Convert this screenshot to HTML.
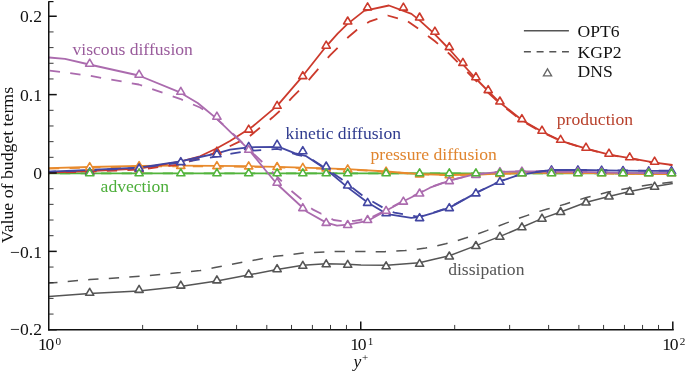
<!DOCTYPE html>
<html><head><meta charset="utf-8"><title>Budget terms</title>
<style>
html,body{margin:0;padding:0;background:#fff;}
body{width:685px;height:371px;overflow:hidden;position:relative;}
svg{position:absolute;left:0;top:0;display:block;will-change:transform;}
text{font-family:"Liberation Serif","Times New Roman",serif;font-size:17.6px;fill:#111;}
</style></head><body>
<svg width="685" height="371" viewBox="0 0 685 371">
<rect width="685" height="371" fill="#fff"/>
<g stroke="#555555" fill="none" stroke-width="1.50" stroke-linejoin="round">
<path d="M49.0 296.5 L89.4 293.4 L139.0 290.9 L180.4 286.4 L190.0 285.1 L216.8 280.9 L248.1 275.1 L277.0 269.6 L302.8 265.3 L326.1 263.8 L347.4 264.3 L361.0 265.0 L386.8 265.2 L419.4 262.7 L435.2 258.9 L449.5 255.7 L476.0 245.6 L499.6 236.6 L522.4 227.0 L542.4 218.4 L561.3 211.7 L586.4 202.3 L608.8 196.4 L629.6 191.5 L654.5 186.6 L672.8 183.4"/>
<path d="M49.0 283.1 L57.5 282.4 M67.7 281.5 L78.0 280.6 M88.2 279.8 L90.0 279.6 L98.5 279.0 M108.8 278.4 L119.1 277.7 M129.3 277.0 L139.6 276.3 M149.9 275.4 L160.2 274.4 M170.4 273.5 L180.0 272.6 L180.7 272.5 M191.0 271.5 L200.0 270.6 L201.2 270.4 M211.5 268.3 L215.0 267.6 L221.8 266.3 M232.0 264.3 L242.3 262.3 M252.5 260.4 L262.8 258.6 M273.0 256.7 L275.2 256.3 L283.3 255.4 M293.5 254.2 L302.8 253.1 L303.8 253.0 M314.1 252.4 L324.4 251.9 M334.6 251.6 L344.9 251.4 M355.2 251.4 L361.0 251.5 L365.5 251.6 M375.7 251.7 L384.8 251.7 L386.0 251.6 M396.3 251.1 L405.2 250.6 L406.6 250.4 M416.8 249.3 L425.7 248.0 L427.1 247.7 M437.3 245.8 L445.7 243.8 L447.6 243.3 M457.8 240.5 L466.3 237.8 L468.0 237.2 M478.2 233.8 L486.7 230.6 L488.4 229.9 M498.6 226.0 L506.7 222.9 L508.8 222.1 M519.0 218.3 L527.4 215.4 L529.2 214.8 M539.4 211.4 L547.4 209.0 L549.7 208.4 M559.9 205.6 L564.8 204.2 L570.1 202.5 M580.3 199.4 L586.4 197.5 L590.6 196.5 M600.8 193.9 L608.0 192.1 L611.1 191.5 M621.3 189.6 L629.6 188.0 L631.6 187.7 M641.8 186.0 L651.2 184.5 L652.1 184.4 M662.3 183.3 L672.6 182.1"/>
</g>
<g stroke="#52b43c" fill="none" stroke-width="1.80" stroke-linejoin="round">
<path d="M49.0 173.4 L672.8 173.4"/>
<path d="M49.0 173.4 L49.8 173.4 M60.0 173.4 L70.3 173.4 M80.6 173.4 L90.9 173.4 M101.1 173.4 L111.4 173.4 M121.7 173.4 L131.9 173.4 M142.2 173.4 L152.5 173.4 M162.8 173.4 L173.0 173.4 M183.3 173.4 L193.6 173.4 M203.8 173.4 L214.1 173.4 M224.4 173.4 L234.7 173.4 M244.9 173.4 L255.2 173.4 M265.5 173.4 L275.8 173.4 M286.0 173.4 L296.3 173.4 M306.6 173.4 L316.9 173.4 M327.1 173.4 L337.4 173.4 M347.7 173.4 L358.0 173.4 M368.2 173.4 L378.5 173.4 M388.8 173.4 L399.1 173.4 M409.3 173.4 L419.6 173.4 M429.9 173.4 L440.2 173.4 M450.4 173.4 L460.8 173.4 M471.0 173.4 L481.3 173.4 M491.6 173.4 L501.9 173.4 M512.1 173.4 L522.4 173.4 M532.7 173.4 L543.0 173.4 M553.2 173.4 L563.5 173.4 M573.8 173.4 L584.1 173.4 M594.3 173.4 L604.6 173.4 M614.9 173.4 L625.2 173.4 M635.4 173.4 L645.7 173.4 M656.0 173.4 L666.3 173.4"/>
</g>
<g stroke="#e88a2d" fill="none" stroke-width="1.80" stroke-linejoin="round">
<path d="M49.0 168.2 L90.0 167.0 L139.0 165.9 L180.0 165.7 L216.6 165.9 L248.0 166.2 L277.0 166.8 L302.5 167.6 L326.0 168.3 L347.6 169.2 L386.4 171.5 L419.7 174.2 L449.5 175.0 L476.0 174.5 L500.0 173.7 L522.0 173.1 L551.0 172.7 L580.0 172.8 L620.0 173.6 L645.0 174.0 L672.8 174.0"/>
<path d="M49.0 168.6 L59.3 168.3 M69.6 168.0 L79.9 167.8 M90.1 167.5 L100.4 167.3 M110.7 167.1 L121.0 166.9 M131.2 166.7 L139.0 166.5 L141.5 166.5 M151.8 166.4 L162.1 166.4 M172.3 166.3 L180.0 166.3 L182.6 166.3 M192.8 166.4 L203.1 166.4 M213.4 166.5 L216.6 166.5 L223.7 166.6 M233.9 166.7 L244.2 166.8 M254.5 166.9 L264.8 167.1 M275.0 167.4 L277.0 167.4 L285.3 167.6 M295.6 167.9 L302.5 168.1 L305.9 168.2 M316.1 168.5 L326.0 168.8 L326.4 168.8 M336.7 169.2 L347.0 169.6 M357.2 170.1 L367.5 170.7 M377.8 171.3 L386.4 171.8 L388.1 171.9 M398.3 172.7 L408.6 173.5 M418.9 174.2 L419.7 174.3 L429.2 174.6 M439.4 174.8 L449.5 175.1 L449.7 175.1 M460.0 174.9 L470.3 174.7 M480.5 174.4 L490.8 174.1 M501.1 173.8 L511.4 173.5 M521.6 173.2 L522.0 173.2 L531.9 173.1 M542.2 172.9 L551.0 172.8 L552.5 172.8 M562.7 172.8 L573.0 172.9 M583.3 173.0 L593.6 173.2 M603.8 173.4 L614.1 173.6 M624.4 173.8 L634.7 173.9 M644.9 174.1 L645.0 174.1 L655.2 174.1 M665.5 174.1 L672.8 174.1"/>
</g>
<g stroke="#cc3a2c" fill="none" stroke-width="1.80" stroke-linejoin="round">
<path d="M49.0 172.5 L90.0 171.0 L139.0 168.6 L180.4 161.6 L200.0 156.3 L216.9 148.2 L230.0 141.0 L248.1 129.5 L252.6 126.5 L277.1 105.9 L302.5 76.3 L325.8 46.8 L337.6 33.6 L347.3 24.1 L364.1 10.9 L388.9 5.5 L411.5 13.9 L419.6 20.4 L433.4 32.8 L449.6 49.5 L462.9 64.5 L476.3 79.0 L488.0 91.0 L499.6 102.3 L522.2 120.3 L542.3 131.8 L560.9 140.8 L586.2 148.6 L609.2 154.7 L629.8 158.2 L654.9 162.6 L672.4 165.0"/>
<path d="M49.0 172.7 L55.5 172.5 M65.7 172.3 L76.0 172.0 M86.3 171.7 L90.0 171.6 L96.6 171.3 M106.8 170.9 L117.1 170.5 M127.4 170.1 L137.7 169.7 M147.9 168.5 L158.2 167.2 M168.4 165.9 L178.7 164.7 M188.9 161.6 L199.2 158.2 M209.4 154.9 L216.7 152.5 L219.6 151.1 M229.7 146.3 L239.9 141.4 M249.9 136.0 L259.9 127.8 M269.8 119.7 L272.7 117.3 L279.7 111.0 M289.3 100.7 L292.0 97.7 L299.0 90.7 M308.7 80.1 L311.6 76.7 L318.3 68.9 M327.8 57.9 L330.0 55.4 L337.6 47.8 M347.3 38.1 L348.4 37.0 L357.0 29.8 L357.2 29.7 M367.2 23.1 L370.0 21.3 L377.4 18.9 M387.6 15.5 L387.7 15.5 L397.9 18.4 M408.0 21.5 L418.1 28.6 M428.0 36.0 L435.0 41.3 L438.0 43.9 M447.8 52.5 L449.6 54.0 L457.6 62.1 M467.3 72.0 L476.3 81.0 L477.1 81.8 M486.8 91.3 L488.0 92.5 L496.7 100.6 M506.5 108.7 L516.5 116.5 M526.5 123.4 L536.6 129.1 M546.7 134.4 L556.9 139.1 M567.1 142.9 L577.3 146.1 M587.5 149.2 L597.8 151.9 M608.0 154.6 L609.2 154.9 L618.3 156.4 M628.5 158.2 L629.8 158.4 L638.8 160.0 M649.0 161.8 L654.9 162.8 L659.3 163.4 M669.5 164.8 L672.4 165.2"/>
</g>
<g stroke="#ab6bae" fill="none" stroke-width="1.80" stroke-linejoin="round">
<path d="M49.0 57.5 L65.0 58.8 L89.3 64.5 L138.8 75.5 L180.0 92.4 L197.7 103.0 L205.0 109.0 L216.7 118.6 L231.3 132.8 L241.5 142.3 L248.8 149.6 L265.3 170.0 L277.0 184.0 L307.3 212.0 L326.2 222.6 L337.0 225.7 L347.6 224.7 L368.0 220.8 L386.4 210.5 L403.5 201.3 L420.0 193.0 L430.0 187.7 L449.6 180.7 L470.3 175.4 L482.6 173.7 L499.7 171.9 L522.0 171.4 L551.0 171.5 L580.0 171.8 L620.0 172.8 L645.0 173.2 L672.8 173.2"/>
<path d="M49.7 70.6 L60.0 71.9 M70.2 73.2 L80.5 74.6 M90.8 75.9 L101.1 77.8 M111.3 79.6 L121.6 81.4 M131.8 83.3 L138.8 84.5 L142.1 85.6 M152.2 89.2 L162.5 92.7 M172.7 96.3 L180.0 98.8 L182.9 100.1 M193.0 104.5 L200.0 107.5 L203.2 109.6 M213.2 116.1 L214.0 116.6 L223.1 124.5 M232.9 133.7 L238.0 138.5 L242.7 143.2 M252.4 152.8 L261.2 161.0 L262.3 162.0 M272.0 171.6 L276.0 175.5 L281.8 181.3 M291.5 191.0 L291.5 191.0 L301.4 199.3 M311.2 208.2 L312.6 209.4 L321.3 213.8 L321.4 213.8 M331.5 218.9 L333.6 220.0 L341.7 221.2 M352.0 220.9 L354.6 220.8 L362.3 219.5 M372.5 216.8 L382.6 211.8 M392.7 206.6 L402.9 201.1 M413.0 196.1 L420.0 192.6 L423.1 191.0 M433.3 186.2 L443.5 182.6 M453.7 179.4 L463.9 176.8 M474.2 174.7 L482.6 173.5 L484.5 173.3 M494.7 172.2 L499.7 171.7 L505.0 171.6 M515.2 171.4 L522.0 171.2 L525.5 171.2 M535.8 171.2 L546.1 171.3 M556.3 171.4 L566.6 171.5 M576.9 171.6 L580.0 171.6 L587.2 171.8 M597.4 172.0 L607.7 172.3 M618.0 172.5 L620.0 172.6 L628.3 172.7 M638.5 172.9 L645.0 173.0 L648.8 173.0 M659.1 173.0 L669.4 173.0"/>
</g>
<g stroke="#4246a2" fill="none" stroke-width="1.80" stroke-linejoin="round">
<path d="M49.0 171.6 L90.0 169.8 L139.0 167.7 L180.4 161.4 L200.0 157.0 L216.9 153.4 L230.0 149.7 L248.2 147.3 L277.1 146.8 L280.0 147.4 L294.6 153.2 L306.3 156.2 L326.0 169.3 L347.9 187.6 L368.0 202.8 L383.6 212.0 L390.7 214.6 L411.2 217.9 L420.0 216.8 L432.7 213.1 L449.6 207.6 L476.1 192.9 L499.7 181.5 L517.6 175.4 L535.0 172.4 L551.3 170.0 L580.0 170.0 L620.0 170.6 L645.0 170.9 L672.8 170.8"/>
<path d="M49.0 171.8 L55.9 171.5 M66.2 171.2 L76.5 170.8 M86.7 170.4 L90.0 170.3 L97.0 170.0 M107.3 169.5 L117.6 169.0 M127.8 168.5 L138.1 168.0 M148.3 166.7 L158.6 165.4 M168.9 164.0 L179.2 162.6 M189.4 161.0 L199.7 159.3 M209.9 157.6 L216.6 156.5 L220.2 155.8 M230.4 153.9 L231.5 153.7 L240.7 152.2 M251.0 150.8 L261.2 150.1 M271.5 149.3 L277.1 148.9 L281.8 149.9 M292.0 153.2 L296.0 154.5 L302.2 155.8 M312.4 159.8 L322.4 166.3 M332.5 172.9 L341.0 178.8 L342.5 180.0 M352.4 187.7 L352.4 187.7 L362.4 195.5 M372.4 201.5 L375.0 203.0 L382.5 207.4 M392.7 212.0 L394.4 212.7 L402.9 214.1 M413.2 215.9 L415.0 216.2 L420.0 216.5 L423.4 215.5 M433.6 212.5 L443.9 209.2 M454.0 204.9 L464.2 199.3 M474.2 193.7 L476.1 192.7 L484.4 188.7 M494.5 183.8 L499.7 181.3 L504.7 179.6 M514.9 176.1 L517.6 175.2 L525.2 173.9 M535.4 172.1 L545.7 170.6 M555.9 169.8 L566.2 169.8 M576.5 169.8 L580.0 169.8 L586.8 169.9 M597.0 170.1 L607.3 170.2 M617.6 170.4 L620.0 170.4 L627.9 170.5 M638.1 170.6 L645.0 170.7 L648.4 170.7 M658.7 170.7 L669.0 170.6"/>
</g>
<g stroke="#555555" fill="#fff" stroke-width="1.6" stroke-linejoin="round">
<path d="M89.7 288.3 l4.1 7.0 h-8.2z"/>
<path d="M139.1 285.4 l4.1 7.0 h-8.2z"/>
<path d="M180.8 281.1 l4.1 7.0 h-8.2z"/>
<path d="M216.9 275.9 l4.1 7.0 h-8.2z"/>
<path d="M248.7 269.9 l4.1 7.0 h-8.2z"/>
<path d="M277.1 264.7 l4.1 7.0 h-8.2z"/>
<path d="M302.8 261.3 l4.1 7.0 h-8.2z"/>
<path d="M326.2 259.8 l4.1 7.0 h-8.2z"/>
<path d="M347.7 260.3 l4.1 7.0 h-8.2z"/>
<path d="M386.1 261.8 l4.1 7.0 h-8.2z"/>
<path d="M419.6 259.3 l4.1 7.0 h-8.2z"/>
<path d="M449.3 252.0 l4.1 7.0 h-8.2z"/>
<path d="M475.9 241.5 l4.1 7.0 h-8.2z"/>
<path d="M499.9 232.3 l4.1 7.0 h-8.2z"/>
<path d="M521.9 222.8 l4.1 7.0 h-8.2z"/>
<path d="M542.0 214.2 l4.1 7.0 h-8.2z"/>
<path d="M560.6 207.5 l4.1 7.0 h-8.2z"/>
<path d="M586.0 198.0 l4.1 7.0 h-8.2z"/>
<path d="M609.0 192.0 l4.1 7.0 h-8.2z"/>
<path d="M629.7 187.1 l4.1 7.0 h-8.2z"/>
<path d="M654.6 182.2 l4.1 7.0 h-8.2z"/>
</g>
<g stroke="#cc3a2c" fill="#fff" stroke-width="1.6" stroke-linejoin="round">
<path d="M89.7 166.9 l4.1 7.0 h-8.2z"/>
<path d="M139.1 164.8 l4.1 7.0 h-8.2z"/>
<path d="M180.8 158.4 l4.1 7.0 h-8.2z"/>
<path d="M216.9 147.2 l4.1 7.0 h-8.2z"/>
<path d="M248.7 125.1 l4.1 7.0 h-8.2z"/>
<path d="M277.1 101.3 l4.1 7.0 h-8.2z"/>
<path d="M302.8 71.6 l4.1 7.0 h-8.2z"/>
<path d="M326.2 41.2 l4.1 7.0 h-8.2z"/>
<path d="M347.7 17.0 l4.1 7.0 h-8.2z"/>
<path d="M367.6 2.9 l4.1 7.0 h-8.2z"/>
<path d="M403.4 3.1 l4.1 7.0 h-8.2z"/>
<path d="M419.6 13.0 l4.1 7.0 h-8.2z"/>
<path d="M434.9 27.2 l4.1 7.0 h-8.2z"/>
<path d="M449.3 42.6 l4.1 7.0 h-8.2z"/>
<path d="M462.9 58.4 l4.1 7.0 h-8.2z"/>
<path d="M475.9 72.7 l4.1 7.0 h-8.2z"/>
<path d="M488.2 85.6 l4.1 7.0 h-8.2z"/>
<path d="M499.9 97.0 l4.1 7.0 h-8.2z"/>
<path d="M521.9 114.6 l4.1 7.0 h-8.2z"/>
<path d="M542.0 126.2 l4.1 7.0 h-8.2z"/>
<path d="M560.6 135.3 l4.1 7.0 h-8.2z"/>
<path d="M586.0 143.2 l4.1 7.0 h-8.2z"/>
<path d="M609.0 149.2 l4.1 7.0 h-8.2z"/>
<path d="M629.7 152.8 l4.1 7.0 h-8.2z"/>
<path d="M654.6 157.2 l4.1 7.0 h-8.2z"/>
</g>
<g stroke="#e88a2d" fill="#fff" stroke-width="1.6" stroke-linejoin="round">
<path d="M89.7 162.7 l4.1 7.0 h-8.2z"/>
<path d="M139.1 161.6 l4.1 7.0 h-8.2z"/>
<path d="M180.8 161.4 l4.1 7.0 h-8.2z"/>
<path d="M216.9 161.6 l4.1 7.0 h-8.2z"/>
<path d="M248.7 161.9 l4.1 7.0 h-8.2z"/>
<path d="M277.1 162.5 l4.1 7.0 h-8.2z"/>
<path d="M302.8 163.3 l4.1 7.0 h-8.2z"/>
<path d="M326.2 164.0 l4.1 7.0 h-8.2z"/>
<path d="M347.7 164.9 l4.1 7.0 h-8.2z"/>
<path d="M386.1 167.2 l4.1 7.0 h-8.2z"/>
<path d="M419.6 169.9 l4.1 7.0 h-8.2z"/>
<path d="M449.3 170.7 l4.1 7.0 h-8.2z"/>
<path d="M475.9 170.2 l4.1 7.0 h-8.2z"/>
<path d="M499.9 169.4 l4.1 7.0 h-8.2z"/>
<path d="M521.9 168.6 l4.1 7.0 h-8.2z"/>
<path d="M551.5 168.4 l4.1 7.0 h-8.2z"/>
<path d="M577.9 168.4 l4.1 7.0 h-8.2z"/>
<path d="M601.6 168.6 l4.1 7.0 h-8.2z"/>
<path d="M623.0 168.7 l4.1 7.0 h-8.2z"/>
<path d="M648.7 168.8 l4.1 7.0 h-8.2z"/>
<path d="M671.5 168.8 l4.1 7.0 h-8.2z"/>
</g>
<g stroke="#4246a2" fill="#fff" stroke-width="1.6" stroke-linejoin="round">
<path d="M89.7 167.8 l4.1 7.0 h-8.2z"/>
<path d="M139.1 164.0 l4.1 7.0 h-8.2z"/>
<path d="M180.8 157.6 l4.1 7.0 h-8.2z"/>
<path d="M216.9 149.7 l4.1 7.0 h-8.2z"/>
<path d="M248.7 142.4 l4.1 7.0 h-8.2z"/>
<path d="M277.1 140.2 l4.1 7.0 h-8.2z"/>
<path d="M302.8 146.7 l4.1 7.0 h-8.2z"/>
<path d="M326.2 162.0 l4.1 7.0 h-8.2z"/>
<path d="M347.7 181.0 l4.1 7.0 h-8.2z"/>
<path d="M367.6 198.4 l4.1 7.0 h-8.2z"/>
<path d="M386.1 208.8 l4.1 7.0 h-8.2z"/>
<path d="M419.6 213.6 l4.1 7.0 h-8.2z"/>
<path d="M449.3 203.6 l4.1 7.0 h-8.2z"/>
<path d="M475.9 188.9 l4.1 7.0 h-8.2z"/>
<path d="M499.9 177.3 l4.1 7.0 h-8.2z"/>
<path d="M521.9 168.4 l4.1 7.0 h-8.2z"/>
<path d="M551.5 165.9 l4.1 7.0 h-8.2z"/>
<path d="M577.9 165.9 l4.1 7.0 h-8.2z"/>
<path d="M601.6 166.2 l4.1 7.0 h-8.2z"/>
<path d="M623.0 166.5 l4.1 7.0 h-8.2z"/>
<path d="M648.7 166.8 l4.1 7.0 h-8.2z"/>
<path d="M671.5 166.7 l4.1 7.0 h-8.2z"/>
</g>
<g stroke="#ab6bae" fill="#fff" stroke-width="1.6" stroke-linejoin="round">
<path d="M89.7 59.2 l4.1 7.0 h-8.2z"/>
<path d="M139.1 70.2 l4.1 7.0 h-8.2z"/>
<path d="M180.8 87.3 l4.1 7.0 h-8.2z"/>
<path d="M216.9 112.2 l4.1 7.0 h-8.2z"/>
<path d="M248.7 145.3 l4.1 7.0 h-8.2z"/>
<path d="M277.1 178.2 l4.1 7.0 h-8.2z"/>
<path d="M302.8 203.6 l4.1 7.0 h-8.2z"/>
<path d="M326.2 218.4 l4.1 7.0 h-8.2z"/>
<path d="M347.7 220.5 l4.1 7.0 h-8.2z"/>
<path d="M367.6 215.5 l4.1 7.0 h-8.2z"/>
<path d="M386.1 206.4 l4.1 7.0 h-8.2z"/>
<path d="M403.4 197.1 l4.1 7.0 h-8.2z"/>
<path d="M419.6 189.0 l4.1 7.0 h-8.2z"/>
<path d="M449.3 176.6 l4.1 7.0 h-8.2z"/>
<path d="M475.9 170.4 l4.1 7.0 h-8.2z"/>
<path d="M499.9 167.7 l4.1 7.0 h-8.2z"/>
<path d="M521.9 167.2 l4.1 7.0 h-8.2z"/>
<path d="M551.5 167.3 l4.1 7.0 h-8.2z"/>
<path d="M577.9 167.6 l4.1 7.0 h-8.2z"/>
<path d="M601.6 167.9 l4.1 7.0 h-8.2z"/>
<path d="M623.0 168.2 l4.1 7.0 h-8.2z"/>
<path d="M648.7 168.4 l4.1 7.0 h-8.2z"/>
<path d="M671.5 168.4 l4.1 7.0 h-8.2z"/>
</g>
<g stroke="#52b43c" fill="#fff" stroke-width="1.6" stroke-linejoin="round">
<path d="M89.7 168.8 l4.1 7.0 h-8.2z"/>
<path d="M139.1 168.8 l4.1 7.0 h-8.2z"/>
<path d="M180.8 168.8 l4.1 7.0 h-8.2z"/>
<path d="M216.9 168.8 l4.1 7.0 h-8.2z"/>
<path d="M248.7 168.8 l4.1 7.0 h-8.2z"/>
<path d="M277.1 168.8 l4.1 7.0 h-8.2z"/>
<path d="M302.8 168.8 l4.1 7.0 h-8.2z"/>
<path d="M326.2 168.8 l4.1 7.0 h-8.2z"/>
<path d="M347.7 168.8 l4.1 7.0 h-8.2z"/>
<path d="M386.1 168.8 l4.1 7.0 h-8.2z"/>
<path d="M419.6 168.8 l4.1 7.0 h-8.2z"/>
<path d="M449.3 168.8 l4.1 7.0 h-8.2z"/>
<path d="M475.9 168.8 l4.1 7.0 h-8.2z"/>
<path d="M499.9 168.8 l4.1 7.0 h-8.2z"/>
<path d="M521.9 168.8 l4.1 7.0 h-8.2z"/>
<path d="M551.5 168.8 l4.1 7.0 h-8.2z"/>
<path d="M577.9 168.8 l4.1 7.0 h-8.2z"/>
<path d="M601.6 168.8 l4.1 7.0 h-8.2z"/>
<path d="M623.0 168.8 l4.1 7.0 h-8.2z"/>
<path d="M648.7 168.8 l4.1 7.0 h-8.2z"/>
<path d="M671.5 168.8 l4.1 7.0 h-8.2z"/>
</g>
<g stroke="#111" stroke-width="1.5" fill="none" stroke-linecap="butt">
<path d="M48.75 1.2 V330.5"/>
<path d="M48 329.75 H673.75"/>
<path d="M48.75 1.6 H53.5" stroke-width="1.2"/>
</g>
<g stroke="#111" stroke-width="1.5" fill="none">
<path d="M48.75 16.25 h8"/>
<path d="M48.75 94.62 h8"/>
<path d="M48.75 173.00 h8"/>
<path d="M48.75 251.38 h8"/>
<path d="M48.75 329.75 h8"/>
<path d="M360.75 329.75 v-8.3"/>
<path d="M672.80 329.75 v-8.3"/>
</g>
<g stroke="#222" stroke-width="0.9" fill="none">
<path d="M48.75 314.07 h4.8"/>
<path d="M48.75 298.40 h4.8"/>
<path d="M48.75 282.73 h4.8"/>
<path d="M48.75 267.05 h4.8"/>
<path d="M48.75 235.70 h4.8"/>
<path d="M48.75 220.02 h4.8"/>
<path d="M48.75 204.35 h4.8"/>
<path d="M48.75 188.68 h4.8"/>
<path d="M48.75 157.32 h4.8"/>
<path d="M48.75 141.65 h4.8"/>
<path d="M48.75 125.98 h4.8"/>
<path d="M48.75 110.30 h4.8"/>
<path d="M48.75 78.95 h4.8"/>
<path d="M48.75 63.27 h4.8"/>
<path d="M48.75 47.60 h4.8"/>
<path d="M48.75 31.93 h4.8"/>
<path d="M142.64 329.75 v-4.8"/>
<path d="M197.59 329.75 v-4.8"/>
<path d="M236.57 329.75 v-4.8"/>
<path d="M266.81 329.75 v-4.8"/>
<path d="M291.52 329.75 v-4.8"/>
<path d="M312.41 329.75 v-4.8"/>
<path d="M330.51 329.75 v-4.8"/>
<path d="M346.47 329.75 v-4.8"/>
<path d="M454.69 329.75 v-4.8"/>
<path d="M509.64 329.75 v-4.8"/>
<path d="M548.62 329.75 v-4.8"/>
<path d="M578.86 329.75 v-4.8"/>
<path d="M603.57 329.75 v-4.8"/>
<path d="M624.46 329.75 v-4.8"/>
<path d="M642.56 329.75 v-4.8"/>
<path d="M658.52 329.75 v-4.8"/>
</g>
<g text-anchor="end">
<text x="42" y="22.3">0.2</text>
<text x="42" y="100.7">0.1</text>
<text x="42" y="179.1">0</text>
<text x="42" y="257.5">−0.1</text>
<text x="42" y="335.4">−0.2</text>
</g>
<text x="38.10" y="350.3" style="letter-spacing:-1.3px">10</text><text x="55.60" y="344.5" style="font-size:11.2px">0</text>
<text x="350.15" y="350.3" style="letter-spacing:-1.3px">10</text><text x="367.65" y="344.5" style="font-size:11.2px">1</text>
<text x="662.20" y="350.3" style="letter-spacing:-1.3px">10</text><text x="679.70" y="344.5" style="font-size:11.2px">2</text>
<text x="353.5" y="366.5" font-style="italic">y<tspan font-size="11" dy="-5.5" dx="0.8" font-style="normal">+</tspan></text>
<text transform="translate(13.2 243.2) rotate(-90)" style="font-size:17.75px">Value of budget terms</text>
<path d="M523.9 30.7 H568.9" stroke="#555" stroke-width="1.4" fill="none"/>
<path d="M523.9 51.8 H568.9" stroke="#555" stroke-width="1.4" fill="none" stroke-dasharray="7 5.7"/>
<path d="M547.5 68.9 l4.1 7.0 h-8.2z" stroke="#666" stroke-width="1.3" fill="#fff"/>
<text x="577.6" y="36.9">OPT6</text>
<text x="577.6" y="57.5">KGP2</text>
<text x="577.6" y="77.4">DNS</text>
<text x="72.5" y="54.6" style="fill:#9a5c9c">viscous diffusion</text>
<text x="285.6" y="138.5" style="fill:#2f3b8f">kinetic diffusion</text>
<text x="370.5" y="159.8" style="fill:#e0852f">pressure diffusion</text>
<text x="100.6" y="192.2" style="fill:#4cae3a">advection</text>
<text x="556.8" y="125.2" style="fill:#b8412c">production</text>
<text x="448.2" y="275.2" style="fill:#555">dissipation</text>
</svg>
</body></html>
